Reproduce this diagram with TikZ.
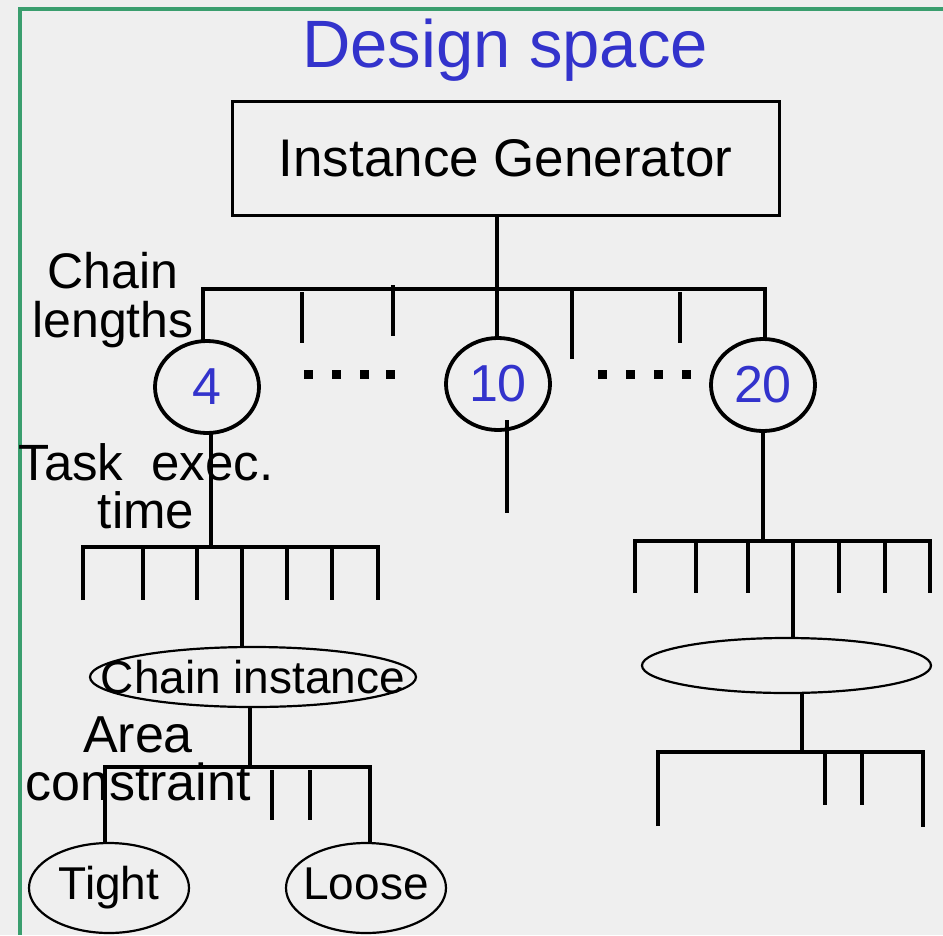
\documentclass[tikz,border=0pt]{standalone}
\usepackage{fontspec}
\setmainfont{Liberation Sans}
\usetikzlibrary{shapes.geometric}
\definecolor{bgc}{RGB}{239,239,239}
\definecolor{framec}{RGB}{58,158,110}
\definecolor{labc}{RGB}{51,51,204}
\tikzset{
  frameline/.style={draw=framec, line width=4pt},
  wire/.style={line width=4.5pt},
  genbox/.style={draw, line width=3pt, minimum width=547pt, minimum height=114pt,
    inner sep=0pt, outer sep=0pt, font=\fontsize{53}{53}\selectfont},
  numnode/.style={draw, ellipse, line width=3.8pt, minimum width=104pt, minimum height=92pt,
    inner sep=0pt, outer sep=0pt, text=labc, font=\fontsize{52}{52}\selectfont},
  thinell/.style={draw, ellipse, line width=2.2pt, inner sep=0pt, outer sep=0pt},
  leafell/.style={thinell, minimum width=160pt, minimum height=90pt,
    font=\fontsize{46}{46}\selectfont, text height=33pt, text depth=9.5pt},
  lbl/.style={align=center, inner sep=0pt},
}
% text set in a zero-width box so that the ellipse keeps its own size
\newcommand{\overtext}[1]{\makebox[0pt]{#1}}
\begin{document}
\begin{tikzpicture}[x=1pt,y=-1pt]
  % canvas and frame
  \fill[bgc] (0,0) rectangle (943,935);
  \useasboundingbox (0,0) rectangle (943,935);
  \draw[frameline] (943,9) -- (20,9) -- (20,935);

  % title
  \node[anchor=base, inner sep=0pt, text=labc, font=\fontsize{67}{67}\selectfont]
    (title) at (505,67) {Design space};

  % generator and chain length choices
  \node[genbox] (ig) at (505.5,158) {Instance Generator};
  \node[numnode] (c4)  at (207,387) {4};
  \node[numnode] (c10) at (498,384) {10};
  \node[numnode] (c20) at (763,385) {20};

  \coordinate (b1l) at (203,289);
  \coordinate (b1m) at (497,289);
  \coordinate (b1r) at (765,289);
  \draw[wire] (b1l |- c4.north) -- (b1l) -- (b1r) -- (b1r |- c20.north);
  \draw[wire] (b1m |- ig.south) -- (b1m |- c10.north);
  \draw[wire] (302,292) -- (302,343);
  \draw[wire] (393,285) -- (393,336);
  \draw[wire] (572,289) -- (572,359);
  \draw[wire] (680,292) -- (680,343);

  % ellipsis marks between the chain lengths
  \foreach \x in {308,336,364,390,602,630,658,686}
    \fill (\x-4.5,369.5) rectangle (\x+4.5,378.5);

  % stub under length 10
  \draw[wire] (507,420) -- (507,513);

  % task execution time choices under length 4
  \coordinate (b2m) at (211,547);
  \draw[wire] (b2m |- c4.south) -- (b2m);
  \draw[wire] (83,600) -- (83,547) -- (378,547) -- (378,600);
  \foreach \x in {143,197,287,332}
    \draw[wire] (\x,547) -- (\x,600);

  \node[thinell, minimum width=326pt, minimum height=60pt, font=\fontsize{46}{46}\selectfont]
    (ci) at (253,677) {\overtext{Chain instance}};
  \coordinate (t2) at (242,547);
  \draw[wire] (t2) -- (t2 |- ci.north);

  % area constraint choices
  \node[leafell] (tight) at (109,888) {\overtext{Tight}};
  \node[leafell] (loose) at (366,888) {\overtext{Loose}};
  \coordinate (b3m) at (250,767);
  \coordinate (b3l) at (105,767);
  \coordinate (b3r) at (370,767);
  \draw[wire] (b3m |- ci.south) -- (b3m);
  \draw[wire] (b3l |- tight.north) -- (b3l) -- (b3r) -- (b3r |- loose.north);
  \draw[wire] (272,770) -- (272,820);
  \draw[wire] (310,770) -- (310,820);

  % subtree under length 20
  \coordinate (b4m) at (763,541);
  \draw[wire] (b4m |- c20.south) -- (b4m);
  \draw[wire] (635,593) -- (635,541) -- (930,541) -- (930,593);
  \foreach \x in {696,748,839,885}
    \draw[wire] (\x,541) -- (\x,593);
  \node[thinell, minimum width=289pt, minimum height=55pt] (ce) at (786.5,665.5) {};
  \coordinate (t4) at (793,541);
  \draw[wire] (t4) -- (t4 |- ce.north);

  \coordinate (b5m) at (802,752);
  \draw[wire] (b5m |- ce.south) -- (b5m);
  \draw[wire] (658,826) -- (658,752) -- (923,752) -- (923,827);
  \draw[wire] (825,752) -- (825,805);
  \draw[wire] (862,752) -- (862,805);

  % level labels
  \node[lbl, font=\fontsize{50}{49}\selectfont] (lenlbl) at (113,300) {Chain\\lengths};
  \node[lbl, font=\fontsize{51}{48}\selectfont] (exlbl) at (146,486.5) {Task\ \ exec.\\time};
  \node[lbl, font=\fontsize{52}{48}\selectfont] (arlbl) at (138,758.5) {Area\\constraint};
\end{tikzpicture}
\end{document}
